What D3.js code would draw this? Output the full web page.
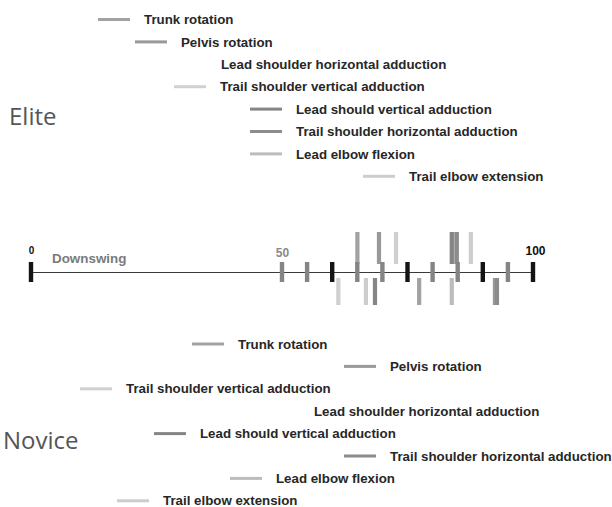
<!DOCTYPE html>
<html><head><meta charset="utf-8">
<script src="https://cdn.jsdelivr.net/npm/d3@7"></script>
<style>
html,body{margin:0;padding:0;background:#fff;}
svg{display:block;}
</style>
</head><body>
<svg id="chart" width="612" height="507"></svg>
<script>
// ---------------- data ----------------
const axisTicks = [0, 50, 55, 60, 65, 70, 75, 80, 85, 90, 95, 100];
const keyTicks = [0, 60, 75, 90, 100];
const tickLabelValues = [0, 50, 100];
const tickLabels = ["0", "50", "100"];
const phaseLabel = "Downswing";
const groups = ["Elite", "Novice"];

const eliteVariables = ["Trunk rotation", "Pelvis rotation", "Lead shoulder horizontal adduction",
  "Trail shoulder vertical adduction", "Lead should vertical adduction",
  "Trail shoulder horizontal adduction", "Lead elbow flexion", "Trail elbow extension"];
const eliteTiming = [65.0, 69.3, null, 72.7, 83.8, 84.8, 84.3, 87.6];

const noviceVariables = ["Trunk rotation", "Pelvis rotation", "Trail shoulder vertical adduction",
  "Lead shoulder horizontal adduction", "Lead should vertical adduction",
  "Trail shoulder horizontal adduction", "Lead elbow flexion", "Trail elbow extension"];
const noviceTiming = [77.3, 92.4, 61.2, null, 68.5, 92.8, 83.8, 66.7];

// ---------------- layout / style ----------------
const shade = {
  "Trunk rotation": "#a2a2a2",
  "Pelvis rotation": "#999999",
  "Lead shoulder horizontal adduction": null,
  "Trail shoulder vertical adduction": "#d0d0d0",
  "Lead should vertical adduction": "#858585",
  "Trail shoulder horizontal adduction": "#8c8c8c",
  "Lead elbow flexion": "#bcbcbc",
  "Trail elbow extension": "#cdcdcd"
};
const eliteLegendX = [98, 135, 175, 174, 250, 250, 250, 363];
const noviceLegendX = [192, 344, 80, 268, 154, 344, 230, 117];
const eliteRowY0 = 19.5, noviceRowY0 = 344, rowStep = 22.4;
const axisY = 272;

const svg = d3.select("#chart");
const x = d3.scaleLinear().domain([0, 100]).range([31, 533]);
const labelFont = "'Liberation Sans', Arial, sans-serif";

// ---------------- axis ----------------
const axis = d3.axisTop(x).tickValues(tickLabelValues)
  .tickFormat((d, i) => tickLabels[i]).tickSize(0).tickSizeOuter(0).tickPadding(15);
const ag = svg.append("g").attr("transform", `translate(0,${axisY})`).call(axis);
ag.select(".domain").attr("stroke", "#3a3a3a").attr("stroke-width", 1.1);
ag.selectAll(".tick text")
  .attr("font-family", labelFont).attr("font-weight", "bold")
  .attr("font-size", d => d === 0 ? 10 : 12)
  .attr("fill", d => keyTicks.includes(d) ? "#111" : "#8a8a8a")
  .attr("dy", d => d === 0 ? -3 : (d === 100 ? -2 : 0))
  .attr("dx", d => d === 100 ? 2 : 0);

svg.append("text").attr("x", 52).attr("y", axisY - 9.5)
  .attr("font-family", labelFont).attr("font-weight", "bold").attr("font-size", 13.4)
  .attr("fill", "#7a7a7a").text(phaseLabel);

// ---------------- timing bars ----------------
function lum(c) { return d3.hsl(c).l; }
function bars(vars, timing, y0, y1) {
  const data = vars.map((v, i) => ({ v, t: timing[i], c: shade[v] }))
    .filter(d => d.t != null && d.c)
    .sort((a, b) => lum(b.c) - lum(a.c));
  svg.append("g").selectAll("rect").data(data).join("rect")
    .attr("x", d => x(d.t) - 2).attr("width", 4.2)
    .attr("y", y0).attr("height", y1 - y0)
    .attr("fill", d => d.c);
}
bars(eliteVariables, eliteTiming, axisY - 40, axisY - 8);
bars(noviceVariables, noviceTiming, axisY + 6, axisY + 33);

// axis tick marks
svg.append("g").selectAll("rect").data(axisTicks).join("rect")
  .attr("x", d => x(d) - 2.2).attr("width", 4.4)
  .attr("y", axisY - 10).attr("height", 20)
  .attr("fill", d => keyTicks.includes(d) ? "#141414" : "#858585");

// ---------------- legends ----------------
function legend(vars, lx, y0) {
  const g = svg.append("g");
  const rows = g.selectAll("g").data(vars).join("g")
    .attr("transform", (d, i) => `translate(${lx[i]},${y0 + i * rowStep})`);
  rows.filter(d => shade[d]).append("rect")
    .attr("x", 0).attr("y", -1.5).attr("width", 32).attr("height", 3)
    .attr("fill", d => shade[d]);
  rows.append("text").attr("x", 46).attr("dy", "0.35em")
    .attr("font-family", labelFont).attr("font-weight", "bold").attr("font-size", 13.3)
    .attr("fill", "#272727").text(d => d);
}
legend(eliteVariables, eliteLegendX, eliteRowY0);
legend(noviceVariables, noviceLegendX, noviceRowY0);

// group labels
svg.append("text").attr("x", 9).attr("y", 116.5).attr("dy", "0.35em")
  .attr("font-family", "'Open Sans', sans-serif").attr("font-size", 24)
  .attr("fill", "#555").text(groups[0]);
svg.append("text").attr("x", 3).attr("y", 440.5).attr("dy", "0.35em")
  .attr("font-family", "'Open Sans', sans-serif").attr("font-size", 24)
  .attr("fill", "#555").text(groups[1]);
</script>
</body></html>
